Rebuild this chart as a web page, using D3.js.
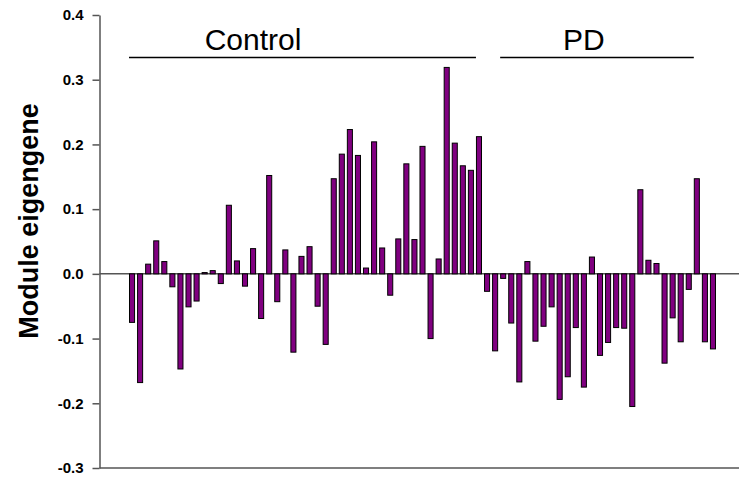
<!DOCTYPE html>
<html>
<head>
<meta charset="utf-8">
<script src="https://cdn.jsdelivr.net/npm/d3@7"></script>
<style>
  body { margin: 0; background: #fff; }
  text { font-family: "Liberation Sans", Arial, sans-serif; }
</style>
</head>
<body>
<div id="chart"></div>
<script>
// module eigengene per sample (control samples first, then PD)
const controlValues = [-0.075, -0.168, 0.015, 0.051, 0.019, -0.020, -0.147, -0.051, -0.042, 0.002,
  0.005, -0.015, 0.106, 0.020, -0.019, 0.039, -0.069, 0.152, -0.043, 0.037,
  -0.121, 0.027, 0.042, -0.050, -0.109, 0.147, 0.185, 0.223, 0.183, 0.009,
  0.204, 0.040, -0.033, 0.054, 0.170, 0.053, 0.197, -0.100, 0.023, 0.319,
  0.202, 0.167, 0.160, 0.212];
const pdValues = [-0.027, -0.119, -0.007, -0.076, -0.167, 0.019, -0.104, -0.081, -0.051, -0.194,
  -0.159, -0.083, -0.175, 0.026, -0.126, -0.106, -0.083, -0.084, -0.205, 0.130,
  0.021, 0.016, -0.138, -0.068, -0.105, -0.024, 0.147, -0.105, -0.116];

// group brackets above the bars (sample index ranges)
const groupNames = ["Control", "PD"];
const groupStart = [0, 46];
const groupEnd = [43, 70];
const groupLabelAt = [15, 56];

const yTicks = [-0.3, -0.2, -0.1, 0.0, 0.1, 0.2, 0.3, 0.4];
const yLabel = "Module eigengene";

const width = 739, height = 479;
const plotLeft = 99.5, plotRight = 739, plotTop = 15, plotBottom = 468;

const values = controlValues.concat(pdValues);
const data = values.map((v, i) => ({i: i, v: v}));

const svg = d3.select("#chart").append("svg")
  .attr("width", width)
  .attr("height", height);

const x = d3.scaleBand()
  .domain(d3.range(values.length))
  .range([128, 717])
  .paddingInner(0.25)
  .paddingOuter(0.125);

const y = d3.scaleLinear()
  .domain([-0.3, 0.4])
  .range([plotBottom, plotTop]);

// bottom frame line
svg.append("line")
  .attr("x1", plotLeft).attr("x2", plotRight)
  .attr("y1", y(-0.3)).attr("y2", y(-0.3))
  .attr("stroke", "#555").attr("stroke-width", 1.5);

// zero line
svg.append("line")
  .attr("x1", plotLeft).attr("x2", plotRight)
  .attr("y1", y(0)).attr("y2", y(0))
  .attr("stroke", "#555").attr("stroke-width", 1.5);

// bars
svg.append("g").selectAll("rect")
  .data(data)
  .enter()
  .append("rect")
  .attr("x", d => x(d.i) + 0.5)
  .attr("y", d => y(Math.max(0, d.v)))
  .attr("width", x.bandwidth() - 1)
  .attr("height", d => Math.max(0.5, Math.abs(y(d.v) - y(0))))
  .attr("fill", "#800080")
  .attr("stroke", "#000")
  .attr("stroke-width", 1);

// y axis
const yAxis = svg.append("g")
  .attr("transform", `translate(${plotLeft},0)`)
  .call(d3.axisLeft(y).tickValues(yTicks).tickSize(7).tickSizeOuter(0).tickPadding(9)
    .tickFormat(d => d.toFixed(1)));
yAxis.select(".domain").attr("stroke", "#555").attr("stroke-width", 1.5);
yAxis.selectAll(".tick line").attr("stroke", "#555").attr("stroke-width", 1.5);
yAxis.selectAll(".tick text")
  .attr("fill", "#000")
  .style("font-family", "'Liberation Sans', Arial, sans-serif")
  .style("font-size", "15px")
  .style("font-weight", "bold");

// y axis label
svg.append("text")
  .attr("transform", `translate(38, 221) rotate(-90)`)
  .style("text-anchor", "middle")
  .style("font-size", "27px")
  .style("font-weight", "bold")
  .text(yLabel);

// group brackets and names
groupNames.forEach(function(name, k) {
  svg.append("line")
    .attr("x1", x(groupStart[k])).attr("x2", x(groupEnd[k]))
    .attr("y1", 57.5).attr("y2", 57.5)
    .attr("stroke", "#000").attr("stroke-width", 1.5);
  svg.append("text")
    .attr("x", x(groupLabelAt[k]) + x.bandwidth() / 2)
    .attr("y", 50)
    .style("text-anchor", "middle")
    .style("font-size", "30px")
    .text(name);
});
</script>
</body>
</html>
